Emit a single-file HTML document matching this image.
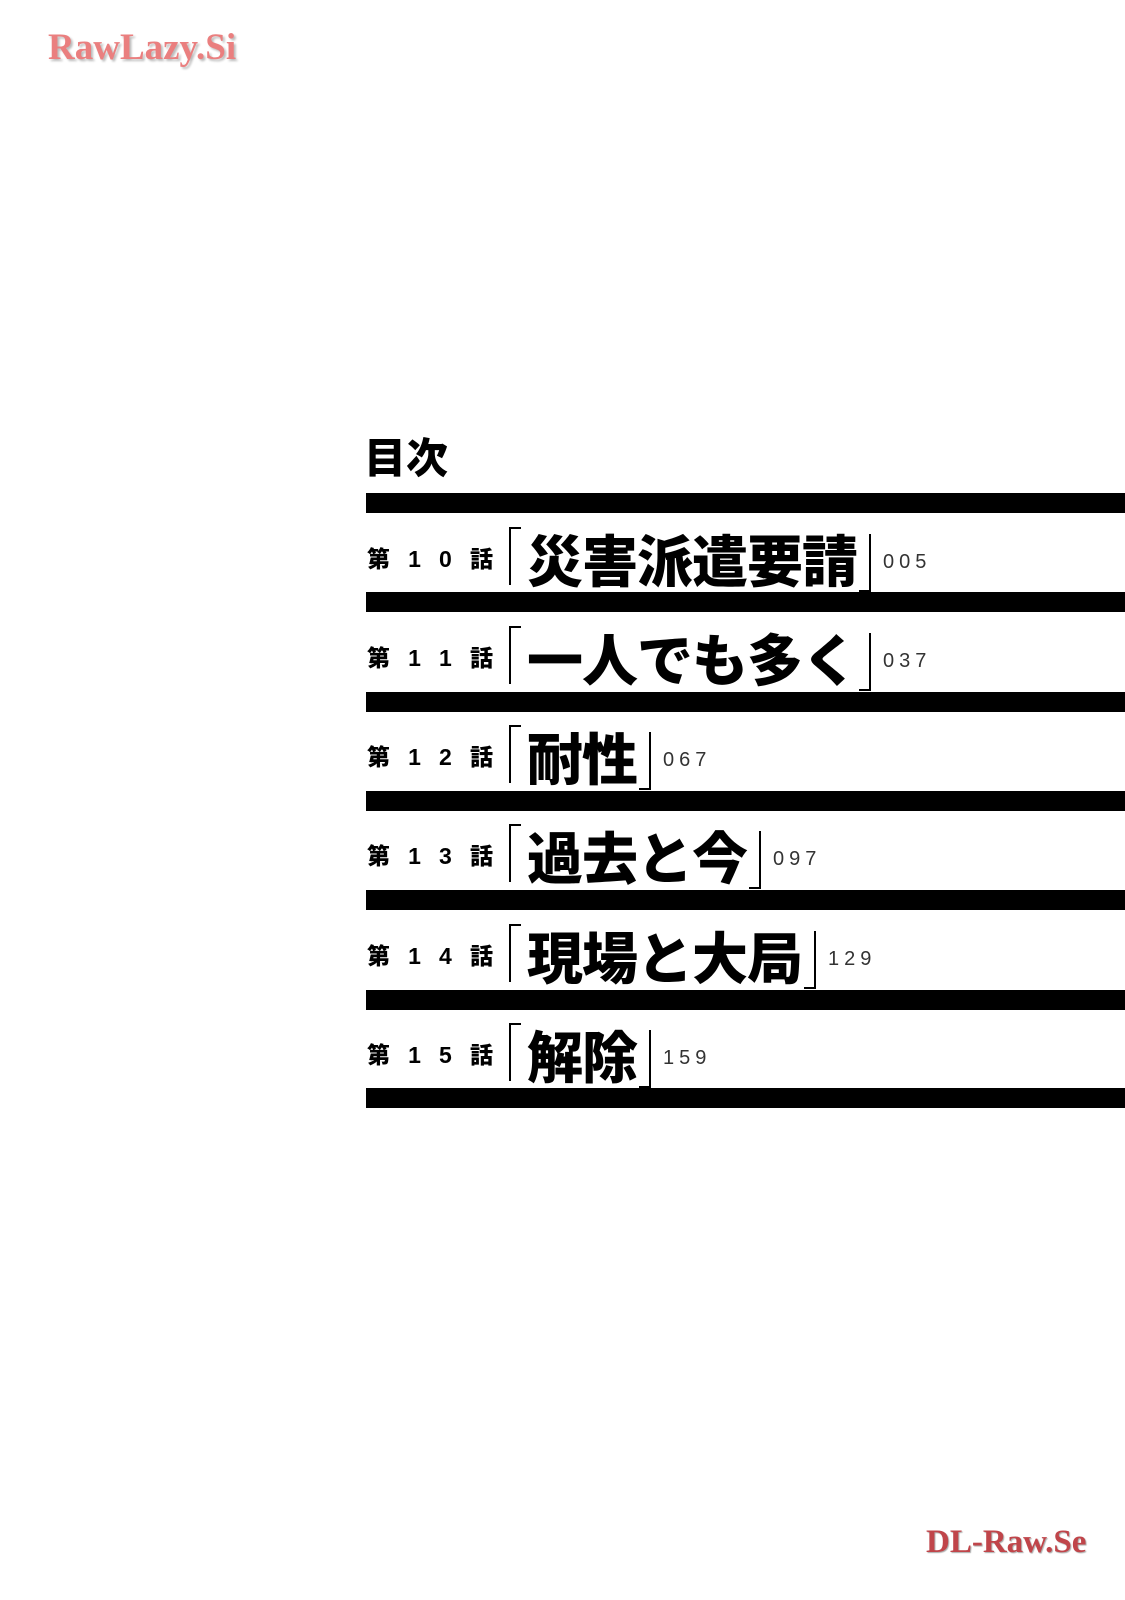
<!DOCTYPE html>
<html><head><meta charset="utf-8"><style>
body{margin:0;width:1125px;height:1600px;background:#fff;position:relative;overflow:hidden;font-family:"Liberation Sans","Noto Sans CJK JP",sans-serif}
.bar{position:absolute;left:366px;right:0;height:20px;background:#000}
.row{position:absolute;left:367px;height:80px;display:flex;align-items:center;white-space:nowrap}
.lab{font-weight:900;font-size:23px;width:126px;display:flex;justify-content:space-between;align-items:baseline}
.lab span{line-height:1}
.lb{width:10px;height:56px;border-left:2px solid #000;border-top:2px solid #000;margin:0 6px 0 16px;transform:translateY(-3px)}
.rb{width:10px;height:56px;border-right:2px solid #000;border-bottom:2px solid #000;margin:0 12px 0 2px;transform:translateY(4px)}
.t{font-family:"Noto Sans CJK JP",sans-serif;font-weight:900;font-size:56px;letter-spacing:-1px;line-height:1}
.n{font-size:20px;letter-spacing:5px;color:#333;transform:translateY(3px)}
</style></head><body>
<div style="position:absolute;left:48px;top:26px;font-family:'Liberation Serif',serif;font-weight:bold;font-size:37px;color:#ea7f7f;text-shadow:2px 2px 2px #bbb">RawLazy.Si</div>
<div style="position:absolute;left:926px;top:1524px;font-family:'Liberation Serif',serif;font-weight:bold;font-size:33px;color:#c0454a;text-shadow:1px 1px 1px #aaa">DL-Raw.Se</div>
<div style="position:absolute;left:364px;top:428px;font-family:'Noto Sans CJK JP',sans-serif;font-weight:900;font-size:42px;line-height:56px">目次</div>

<div class="bar" style="top:493px"></div>
<div class="bar" style="top:592px"></div>
<div class="bar" style="top:692px"></div>
<div class="bar" style="top:791px"></div>
<div class="bar" style="top:890px"></div>
<div class="bar" style="top:990px"></div>
<div class="bar" style="top:1088px"></div>

<div class="row" style="top:519px"><div class="lab"><span>第</span><span>1</span><span>0</span><span>話</span></div><div class="lb"></div><div class="t">災害派遣要請</div><div class="rb"></div><div class="n">005</div></div>
<div class="row" style="top:618px"><div class="lab"><span>第</span><span>1</span><span>1</span><span>話</span></div><div class="lb"></div><div class="t">一人でも多く</div><div class="rb"></div><div class="n">037</div></div>
<div class="row" style="top:717px"><div class="lab"><span>第</span><span>1</span><span>2</span><span>話</span></div><div class="lb"></div><div class="t">耐性</div><div class="rb"></div><div class="n">067</div></div>
<div class="row" style="top:816px"><div class="lab"><span>第</span><span>1</span><span>3</span><span>話</span></div><div class="lb"></div><div class="t">過去と今</div><div class="rb"></div><div class="n">097</div></div>
<div class="row" style="top:916px"><div class="lab"><span>第</span><span>1</span><span>4</span><span>話</span></div><div class="lb"></div><div class="t">現場と大局</div><div class="rb"></div><div class="n">129</div></div>
<div class="row" style="top:1015px"><div class="lab"><span>第</span><span>1</span><span>5</span><span>話</span></div><div class="lb"></div><div class="t">解除</div><div class="rb"></div><div class="n">159</div></div>
</body></html>
